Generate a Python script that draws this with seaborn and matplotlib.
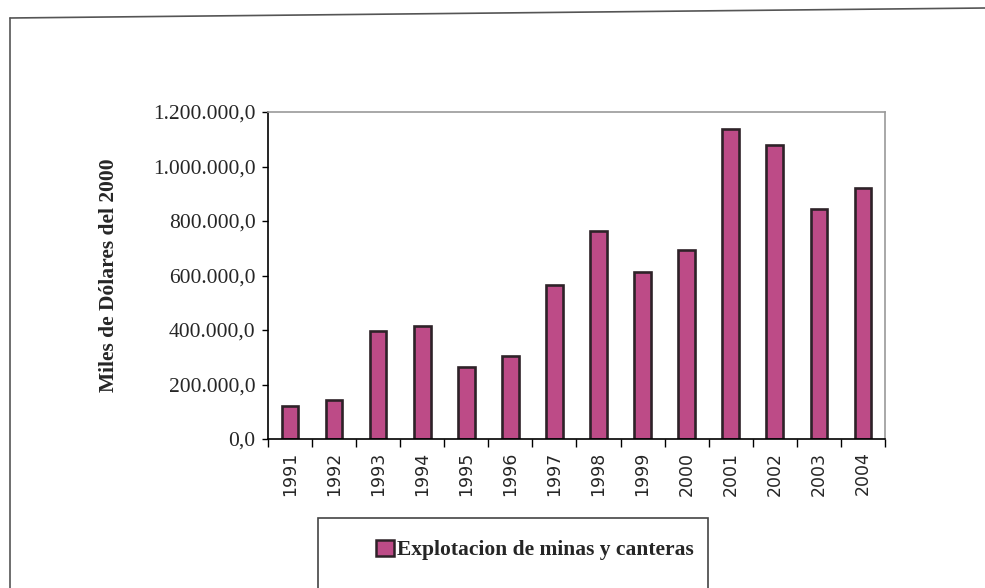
import matplotlib
matplotlib.use("Agg")
import matplotlib.pyplot as plt
import matplotlib.ticker as mticker
from matplotlib.patches import Rectangle
from matplotlib.lines import Line2D
import seaborn as sns
import pandas as pd

years = ["1991", "1992", "1993", "1994", "1995", "1996", "1997",
         "1998", "1999", "2000", "2001", "2002", "2003", "2004"]
values = [121000, 143000, 397000, 415000, 266000, 305000, 564000,
          763000, 614000, 692000, 1136000, 1079000, 845000, 920000]
series_name = "Explotacion de minas y canteras"
ylabel = "Miles de Dólares del 2000"

df = pd.DataFrame({"year": years, "value": values})

sns.set_style("white")
plt.rcParams["font.family"] = ["Liberation Serif", "DejaVu Serif"]

BAR = "#bd4b87"
EDGE = "#2e2228"

fig = plt.figure(figsize=(9.85, 5.88), dpi=100)
ax = fig.add_axes([0.272, 0.2534, 0.6265, 0.5561])

sns.barplot(data=df, x="year", y="value", color=BAR, width=0.38,
            edgecolor=EDGE, linewidth=1.9, saturation=1, ax=ax,
            label=series_name)

ax.set_xlim(-0.5, len(years) - 0.5)
ax.set_ylim(0, 1200000)
ax.yaxis.set_major_locator(mticker.MultipleLocator(200000))

def esfmt(v, pos):
    s = f"{v:,.1f}"
    return s.replace(",", "X").replace(".", ",").replace("X", ".")

ax.yaxis.set_major_formatter(mticker.FuncFormatter(esfmt))
for lab in ax.get_yticklabels():
    lab.set_fontsize(15.5)
    lab.set_family(["Liberation Serif"])

ax.set_xticks(range(len(years)))
ax.set_xticklabels(years, rotation=90, fontsize=12.5, family=["DejaVu Sans"])
ax.tick_params(axis="x", which="major", length=0, pad=9)
ax.set_xticks([i - 0.5 for i in range(len(years) + 1)], minor=True)
ax.tick_params(axis="x", which="minor", length=6, width=1, color="black",
               direction="out", bottom=True)
ax.tick_params(axis="y", which="major", length=4, width=1, color="black",
               direction="out", left=True, pad=5)

ax.set_xlabel("")
ax.set_ylabel(ylabel, fontsize=15.5, fontweight="bold", labelpad=24)

for side in ["left", "bottom"]:
    ax.spines[side].set_color("black")
    ax.spines[side].set_linewidth(1.2)
for side in ["top", "right"]:
    ax.spines[side].set_color("#9a9a9a")
    ax.spines[side].set_linewidth(1.2)
    ax.spines[side].set_visible(True)

if ax.get_legend() is not None:
    ax.get_legend().remove()

# outer chart border (scanned frame)
fig.lines.append(Line2D([10 / 985, 10 / 985], [1 - 18 / 588, 0],
                        transform=fig.transFigure, color="#555555", lw=1.2))
fig.lines.append(Line2D([10 / 985, 1.0], [1 - 18 / 588, 1 - 8 / 588],
                        transform=fig.transFigure, color="#555555", lw=1.2))

# legend box
fig.patches.append(Rectangle((318 / 985, -0.01), 390 / 985, 0.01 + (588 - 518) / 588,
                             transform=fig.transFigure, fill=False,
                             edgecolor="#444444", lw=1.2))
handles = [Rectangle((0, 0), 1, 1, facecolor=BAR, edgecolor=EDGE, lw=1.8)]
fig.legend(handles, [series_name], loc="center", bbox_to_anchor=(535 / 985, 1 - 550 / 588),
           frameon=False, prop={"family": "Liberation Serif", "weight": "bold", "size": 15.5},
           handlelength=0.8, handleheight=0.8, handletextpad=0.15)

fig.savefig("out.png", dpi=100, facecolor="white")
